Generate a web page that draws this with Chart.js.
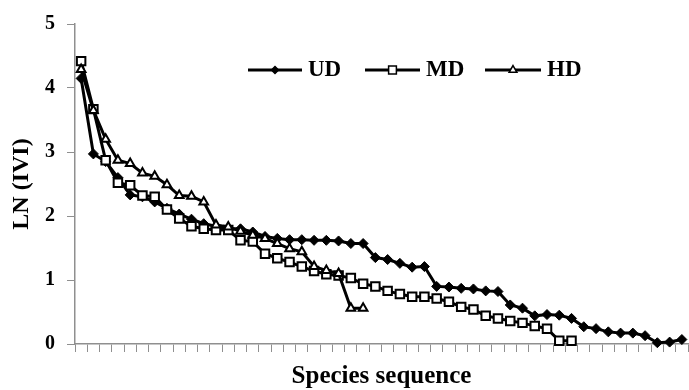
<!DOCTYPE html>
<html>
<head>
<meta charset="utf-8">
<script src="https://cdn.jsdelivr.net/npm/chart.js@4"></script>
<style>
  html, body { margin: 0; padding: 0; background: #fff; overflow: hidden; }
</style>
</head>
<body>
<canvas id="chart" width="696" height="390"></canvas>
<script>
'use strict';

// species sequence (x categories)
const species = [1, 2, 3, 4, 5, 6, 7, 8, 9, 10, 11, 12, 13, 14, 15, 16, 17, 18, 19, 20,
    21, 22, 23, 24, 25, 26, 27, 28, 29, 30, 31, 32, 33, 34, 35, 36, 37, 38, 39, 40,
    41, 42, 43, 44, 45, 46, 47, 48, 49, 50];

// LN(IVI) values
const udValues = [4.15, 2.97, 2.85, 2.6, 2.33, 2.3, 2.22, 2.12, 2.03, 1.95,
    1.88, 1.84, 1.8, 1.8, 1.75, 1.68, 1.65, 1.63, 1.63, 1.62,
    1.62, 1.61, 1.57, 1.57, 1.35, 1.32, 1.26, 1.2, 1.21, 0.9,
    0.89, 0.87, 0.86, 0.83, 0.82, 0.61, 0.56, 0.44, 0.46, 0.45,
    0.4, 0.27, 0.24, 0.19, 0.17, 0.17, 0.13, 0.02, 0.03, 0.07];

const mdValues = [4.42, 3.67, 2.87, 2.52, 2.48, 2.32, 2.3, 2.1, 1.96, 1.84,
    1.8, 1.78, 1.78, 1.62, 1.6, 1.41, 1.34, 1.28, 1.21, 1.14,
    1.09, 1.07, 1.03, 0.94, 0.9, 0.83, 0.78, 0.74, 0.74, 0.71,
    0.66, 0.58, 0.54, 0.44, 0.4, 0.36, 0.33, 0.28, 0.24, 0.05, 0.05];

const hdValues = [4.29, 3.65, 3.2, 2.87, 2.82, 2.67, 2.62, 2.49, 2.32, 2.31,
    2.22, 1.86, 1.83, 1.76, 1.7, 1.65, 1.57, 1.49, 1.44, 1.21,
    1.15, 1.1, 0.56, 0.56];

const yTicks = [0, 1, 2, 3, 4, 5];

const serif = "'Liberation Serif', 'Times New Roman', serif";
const axisGray = '#8f8f8f';

// legend drawn inside the plot: line sample + marker + label
const inlineLegend = {
    id: 'inlineLegend',
    afterDraw(chart) {
        const ctx = chart.ctx;
        const y = 70;
        const spots = [
            { x: 248, w: 54, r: 3.5 },
            { x: 365, w: 55, r: 5.5 },
            { x: 485, w: 56, r: 4.5 }
        ];
        ctx.save();
        chart.data.datasets.forEach((ds, i) => {
            const s = spots[i];
            ctx.strokeStyle = '#000';
            ctx.lineWidth = 3;
            ctx.beginPath();
            ctx.moveTo(s.x, y);
            ctx.lineTo(s.x + s.w, y);
            ctx.stroke();
            ctx.fillStyle = ds.pointBackgroundColor;
            ctx.lineWidth = 1.5;
            Chart.helpers.drawPoint(ctx, { pointStyle: ds.pointStyle, radius: s.r, borderWidth: 1.5, rotation: 0 }, s.x + s.w / 2, y);
            ctx.fillStyle = '#000';
            ctx.font = 'bold 23px ' + serif;
            ctx.textBaseline = 'middle';
            ctx.textAlign = 'left';
            ctx.fillText(ds.label, s.x + s.w + 6, y);
        });
        ctx.restore();
    }
};

const ctx = document.getElementById('chart');

new Chart(ctx, {
    type: 'line',
    data: {
        labels: species,
        datasets: [
            {
                label: 'UD',
                data: udValues,
                borderColor: '#000',
                borderWidth: 3,
                pointStyle: 'rectRot',
                pointRadius: 5,
                pointBackgroundColor: '#000',
                pointBorderColor: '#000',
                pointBorderWidth: 1,
                order: 3
            },
            {
                label: 'MD',
                data: mdValues,
                borderColor: '#000',
                borderWidth: 3,
                pointStyle: 'rect',
                pointRadius: 6,
                pointBackgroundColor: '#fff',
                pointBorderColor: '#000',
                pointBorderWidth: 2,
                order: 2
            },
            {
                label: 'HD',
                data: hdValues,
                borderColor: '#000',
                borderWidth: 3,
                pointStyle: 'triangle',
                pointRadius: 5,
                pointBackgroundColor: '#fff',
                pointBorderColor: '#000',
                pointBorderWidth: 2,
                order: 1
            }
        ]
    },
    options: {
        responsive: false,
        animation: false,
        devicePixelRatio: 1,
        clip: false,
        elements: { line: { tension: 0 } },
        layout: { padding: { top: 23, right: 1, left: 0, bottom: 0 } },
        plugins: {
            legend: { display: false },
            tooltip: { enabled: false }
        },
        scales: {
            x: {
                type: 'category',
                offset: true,
                afterFit(scale) { scale.height = 46; },
                grid: {
                    offset: true,
                    drawOnChartArea: false,
                    drawTicks: true,
                    tickLength: 8,
                    color: axisGray,
                    lineWidth: 1
                },
                border: { display: true, color: axisGray, width: 1.5 },
                ticks: { display: false },
                title: {
                    display: true,
                    text: 'Species sequence',
                    color: '#000',
                    font: { family: serif, size: 25, weight: 'bold', lineHeight: 1 },
                    padding: { top: 0, bottom: 1 }
                }
            },
            y: {
                min: 0,
                max: 5,
                afterFit(scale) { scale.width = 75; },
                afterBuildTicks(scale) { scale.ticks = yTicks.map(v => ({ value: v })); },
                grid: {
                    drawOnChartArea: false,
                    drawTicks: true,
                    tickLength: 8,
                    color: axisGray,
                    lineWidth: 1
                },
                border: { display: true, color: axisGray, width: 1.5 },
                ticks: {
                    color: '#000',
                    padding: 12,
                    font: { family: serif, size: 20, weight: 'bold' }
                },
                title: {
                    display: true,
                    text: 'LN (IVI)',
                    color: '#000',
                    font: { family: serif, size: 24, weight: 'bold', lineHeight: 1 },
                    padding: { top: 10, bottom: 0 }
                }
            }
        }
    },
    plugins: [inlineLegend]
});
</script>
</body>
</html>
